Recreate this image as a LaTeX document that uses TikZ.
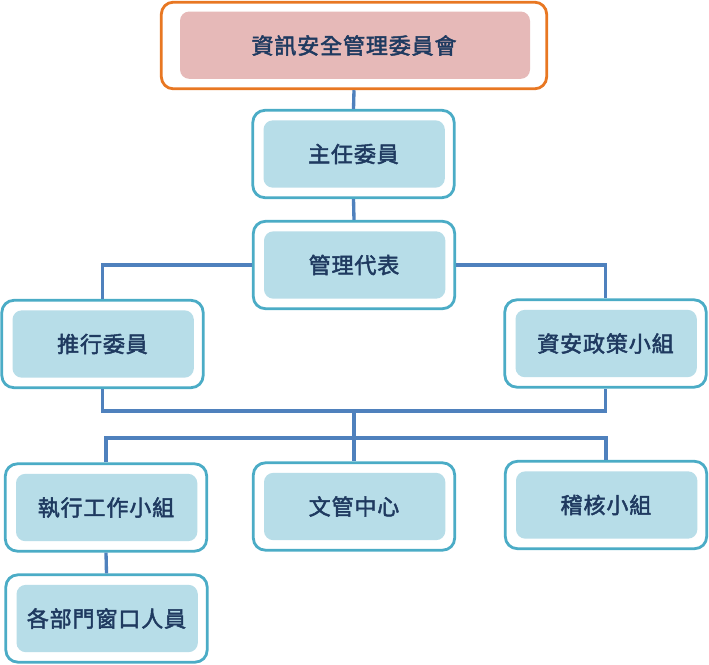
\documentclass[tikz,border=0pt]{standalone}
\usepackage{fontspec}
\newfontfamily\cjk[LetterSpace=4,FakeBold=2.2]{Noto Sans CJK TC}
\definecolor{bordteal}{HTML}{4BACC6}
\definecolor{fillteal}{HTML}{B7DDE8}
\definecolor{bordorange}{HTML}{E87722}
\definecolor{fillpink}{HTML}{E6B9B8}
\definecolor{txtnavy}{HTML}{1F3A60}
\definecolor{linkblue}{HTML}{4F81BD}
\begin{document}
\begin{tikzpicture}[x=0.75pt,y=-0.75pt,
  orgbox/.style={draw=bordteal, line width=2.1pt, rounded corners=9pt, fill=white,
    minimum width=151pt, minimum height=65.5pt, inner sep=0pt,
    font=\cjk\fontsize{16.5}{20}\selectfont, text=txtnavy,
    path picture={\fill[fillteal, rounded corners=7pt]
      ([shift={(8pt,-7.5pt)}]path picture bounding box.north west) rectangle
      ([shift={(-7pt,7.5pt)}]path picture bounding box.south east);}},
  topbox/.style={draw=bordorange, line width=2.1pt, rounded corners=9pt, fill=white,
    minimum width=289pt, minimum height=65pt, inner sep=0pt,
    font=\cjk\fontsize{16.5}{20}\selectfont, text=txtnavy,
    path picture={\fill[fillpink, rounded corners=7pt]
      ([shift={(14pt,-7pt)}]path picture bounding box.north west) rectangle
      ([shift={(-12.5pt,7.5pt)}]path picture bounding box.south east);}},
  link/.style={draw=linkblue, line width=2.5pt}]
\useasboundingbox (0,0) rectangle (709,664);
\coordinate (j1) at (354,411);
\coordinate (j2) at (354,438);
\node[topbox] (top) at (354,45.5) {資訊安全管理委員會};
\node[orgbox] (zr) at (353.5,154) {主任委員};
\node[orgbox] (gl) at (354,265) {管理代表};
\node[orgbox] (tx) at (102.5,344) {推行委員};
\node[orgbox] (za) at (605.5,343.5) {資安政策小組};
\node[orgbox] (zx) at (106,507.5) {執行工作小組};
\node[orgbox] (wg) at (354,506.5) {文管中心};
\node[orgbox] (jh) at (606,505) {稽核小組};
\node[orgbox] (gb) at (106.5,618.5) {各部門窗口人員};
\draw[link] (top.south) -- (zr.north);
\draw[link] (zr.south) -- (gl.north);
\draw[link] (gl.west) -| (tx.north);
\draw[link] (gl.east) -| (za.north);
\draw[link] (tx.south) |- (j1) -| (za.south);
\draw[link] (j1) -- (wg.north);
\draw[link] (zx.north) |- (j2) -| (jh.north);
\draw[link] (zx.south) -- (gb.north);
\end{tikzpicture}
\end{document}
